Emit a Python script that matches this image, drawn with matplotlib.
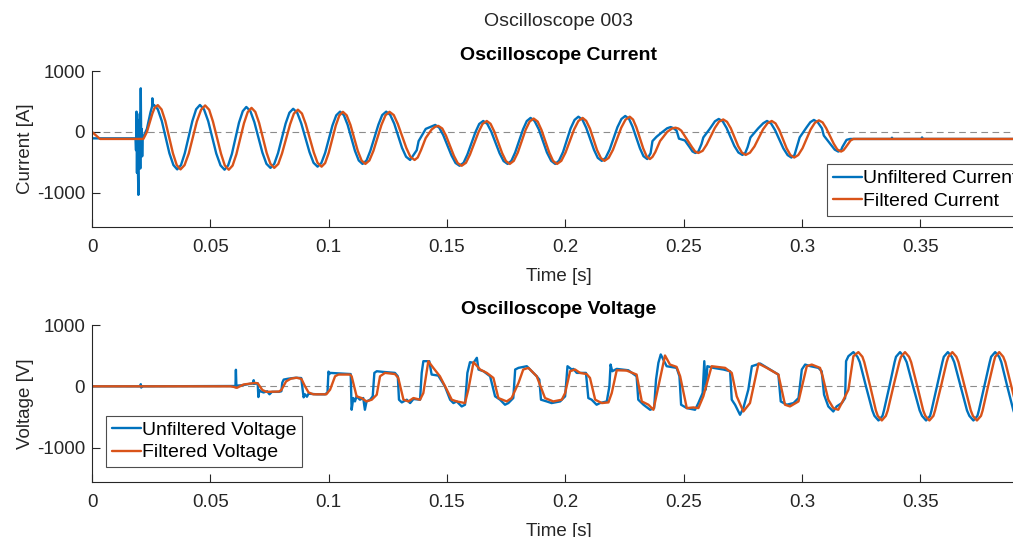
import matplotlib
matplotlib.use("Agg")
import matplotlib.pyplot as plt

plt.rcParams['font.family'] = ['Liberation Sans', 'DejaVu Sans']
plt.rcParams['axes.unicode_minus'] = False

# ---------------- data ----------------
x_ticks = [0, 0.05, 0.1, 0.15, 0.2, 0.25, 0.3, 0.35]
x_tick_labels = ['0', '0.05', '0.1', '0.15', '0.2', '0.25', '0.3', '0.35']
y_ticks = [-1000, 0, 1000]
y_tick_labels = ['-1000', '0', '1000']
t_max = 0.3942

current_unfiltered = [
    (0.0, -105), (0.0184, -105), (0.0186, -300), (0.0188, 333), (0.0190, -672), (0.0192, 200),
    (0.0194, -600), (0.0196, -1033), (0.0198, 100), (0.0200, -500), (0.0202, 300), (0.0204, -600),
    (0.0206, 716), (0.0208, -240), (0.0210, 50), (0.0212, -400), (0.0214, -100), (0.0217, -80),
    (0.0232, 50), (0.0247, 320), (0.0254, 420), (0.0255, 552), (0.0256, 430), (0.0262, 443),
    (0.0278, 372), (0.0295, 178), (0.0327, -350), (0.0344, -544), (0.0360, -615),
    (0.0376, -544), (0.0392, -350), (0.0424, 178), (0.0440, 372), (0.0456, 443),
    (0.0473, 372), (0.0491, 177), (0.0525, -354), (0.0543, -549), (0.0560, -620),
    (0.0575, -551), (0.0591, -362), (0.0621, 152), (0.0637, 341), (0.0652, 410),
    (0.0669, 343), (0.0686, 160), (0.0720, -340), (0.0737, -523), (0.0754, -590),
    (0.0770, -525), (0.0786, -347), (0.0818, 137), (0.0834, 315), (0.0850, 380),
    (0.0867, 316), (0.0884, 142), (0.0919, -332), (0.0936, -506), (0.0953, -570),
    (0.0969, -510), (0.0985, -344), (0.1016, 107), (0.1032, 273), (0.1048, 333),
    (0.1064, 276), (0.1080, 118), (0.1111, -310), (0.1127, -468), (0.1143, -525),
    (0.1160, -468), (0.1176, -310), (0.1210, 118), (0.1226, 276), (0.1243, 333),
    (0.1260, 280), (0.1277, 135), (0.1310, -262), (0.1327, -407), (0.1344, -460),
    (0.1372, -300), (0.1380, -150), (0.1410, 50), (0.1450, 115),
    (0.1467, 70), (0.1484, -52), (0.1519, -387), (0.1536, -510), (0.1553, -555),
    (0.1570, -506), (0.1586, -371), (0.1620, -4), (0.1636, 131), (0.1653, 180),
    (0.1670, 133), (0.1687, 4), (0.1722, -349), (0.1739, -478), (0.1756, -525),
    (0.1772, -474), (0.1788, -336), (0.1821, 41), (0.1837, 179), (0.1853, 230),
    (0.1870, 179), (0.1888, 41), (0.1922, -336), (0.1940, -474), (0.1957, -525),
    (0.1973, -473), (0.1990, -331), (0.2022, 56), (0.2039, 198), (0.2055, 250),
    (0.2072, 201), (0.2088, 69), (0.2121, -294), (0.2137, -426), (0.2154, -475),
    (0.2170, -426), (0.2187, -291), (0.2220, 78), (0.2237, 213), (0.2253, 262),
    (0.2269, 215), (0.2284, 85), (0.2315, -268), (0.2330, -398), (0.2346, -445),
    (0.2360, -350), (0.2368, -150), (0.2385, -80), (0.2410, 0), (0.2430, 60), (0.2445, 80),
    (0.2458, 60), (0.2470, 20), (0.2480, -110), (0.2505, -140), (0.2525, -250), (0.2537, -320),
    (0.2549, -345), (0.2562, -320),
    (0.2575, -200), (0.2583, -90), (0.2610, 50), (0.2632, 175), (0.2648, 213),
    (0.2665, 173), (0.2681, 66), (0.2714, -230), (0.2731, -337), (0.2748, -377),
    (0.2760, -345), (0.2770, -250), (0.2782, -90), (0.2815, 60), (0.2836, 143), (0.2852, 180),
    (0.2869, 140), (0.2886, 30), (0.2921, -270), (0.2939, -380), (0.2955, -420),
    (0.2968, -380), (0.2978, -250), (0.2990, -90), (0.3020, 80), (0.3035, 160), (0.3050, 197),
    (0.3066, 160), (0.3084, 60), (0.3092, -60), (0.3120, -200), (0.3138, -290), (0.3153, -322),
    (0.3165, -300), (0.3170, -250), (0.3188, -130), (0.3203, -115), (0.3379, -115), (0.3380, -95),
    (0.3381, -115), (0.3506, -115), (0.3507, -90), (0.3508, -115), (0.3942, -115),
]

current_filtered = [
    (0.0, 0), (0.0034, -115), (0.0217, -115), (0.0232, 0), (0.0255, 300), (0.0265, 400),
    (0.0278, 440),
    (0.0294, 369), (0.0310, 176), (0.0342, -351), (0.0358, -544), (0.0374, -615),
    (0.0391, -545), (0.0409, -353), (0.0443, 173), (0.0461, 365), (0.0478, 435),
    (0.0495, 364), (0.0511, 171), (0.0545, -356), (0.0561, -549), (0.0578, -620),
    (0.0594, -552), (0.0610, -366), (0.0642, 141), (0.0658, 327), (0.0674, 395),
    (0.0690, 329), (0.0706, 149), (0.0738, -344), (0.0754, -524), (0.0770, -590),
    (0.0787, -526), (0.0803, -351), (0.0837, 126), (0.0853, 301), (0.0870, 365),
    (0.0887, 302), (0.0903, 131), (0.0937, -336), (0.0953, -507), (0.0970, -570),
    (0.0985, -511), (0.1000, -345), (0.1030, 105), (0.1045, 270), (0.1060, 330),
    (0.1076, 273), (0.1092, 116), (0.1123, -311), (0.1139, -468), (0.1155, -525),
    (0.1172, -468), (0.1189, -311), (0.1223, 116), (0.1240, 273), (0.1257, 330),
    (0.1275, 277), (0.1292, 132), (0.1328, -262), (0.1345, -407), (0.1363, -460),
    (0.1376, -420), (0.1390, -300), (0.1410, -100), (0.1435, 40), (0.1450, 85), (0.1463, 100),
    (0.1480, 56), (0.1496, -64), (0.1529, -391), (0.1545, -511), (0.1562, -555),
    (0.1580, -506), (0.1597, -371), (0.1633, -4), (0.1650, 131), (0.1668, 180),
    (0.1684, 133), (0.1700, 4), (0.1733, -349), (0.1749, -478), (0.1765, -525),
    (0.1782, -475), (0.1799, -339), (0.1832, 34), (0.1849, 170), (0.1866, 220),
    (0.1883, 170), (0.1899, 34), (0.1932, -339), (0.1948, -475), (0.1965, -525),
    (0.1983, -474), (0.2001, -336), (0.2037, 41), (0.2055, 179), (0.2073, 230),
    (0.2088, 182), (0.2104, 54), (0.2134, -299), (0.2150, -428), (0.2165, -475),
    (0.2183, -426), (0.2201, -294), (0.2236, 69), (0.2254, 201), (0.2272, 250),
    (0.2286, 203), (0.2300, 76), (0.2329, -271), (0.2343, -398), (0.2357, -445),
    (0.2368, -410), (0.2380, -330), (0.2400, -150), (0.2430, 0), (0.2450, 55), (0.2465, 70),
    (0.2478, 55), (0.2490, 20), (0.2510, -100), (0.2535, -250), (0.2548, -320), (0.2562, -345),
    (0.2580, -310), (0.2597, -208), (0.2632, 68), (0.2649, 168), (0.2667, 205),
    (0.2683, 166), (0.2699, 60), (0.2730, -232), (0.2746, -340), (0.2762, -377),
    (0.2780, -340), (0.2799, -238), (0.2835, 41), (0.2854, 143), (0.2872, 180),
    (0.2888, 140), (0.2904, 30), (0.2935, -270), (0.2951, -380), (0.2967, -420),
    (0.2984, -379), (0.3002, -268), (0.3036, 38), (0.3054, 149), (0.3071, 190),
    (0.3087, 156), (0.3102, 62), (0.3134, -194), (0.3149, -288), (0.3165, -322),
    (0.3175, -300), (0.3185, -250), (0.3205, -140), (0.3217, -115), (0.3942, -115),
]

voltage_unfiltered = [
    (0.0, 0), (0.0205, 0), (0.0206, 35), (0.0208, -20), (0.0209, 0), (0.0600, 5), (0.0606, -15),
    (0.0608, 270), (0.0610, 10), (0.0640, 20), (0.0665, 40), (0.0680, 45), (0.0683, 100),
    (0.0686, 40), (0.0700, 50), (0.0703, -175), (0.0707, -60), (0.0712, -80), (0.0725, -100),
    (0.0740, -80), (0.0750, -130), (0.0760, -90), (0.0790, -90), (0.0800, -80), (0.0804, 60),
    (0.0810, 110), (0.0830, 125), (0.0860, 140), (0.0884, 135), (0.0890, -60), (0.0894, -180),
    (0.0900, -130), (0.0908, -170), (0.0915, -120), (0.0950, -130), (0.0985, -130), (0.0995, -100),
    (0.0999, 240), (0.1003, 200), (0.1006, 219),
    (0.1093, 200), (0.1097, -382), (0.1104, -191), (0.1111, -246), (0.1118, -163), (0.1132, -218),
    (0.1146, -191), (0.1153, -382), (0.1160, -246), (0.1175, -218), (0.1186, -163), (0.1193, 219),
    (0.1203, 246), (0.1231, 235), (0.1280, 219), (0.1292, 164), (0.1297, -218), (0.1309, -262),
    (0.1330, -218), (0.1344, -273), (0.1358, -207), (0.1386, -218), (0.1393, 219), (0.1400, 410),
    (0.1425, 410), (0.1435, 192), (0.1463, 175), (0.1491, 0), (0.1513, -218), (0.1527, -273),
    (0.1541, -246), (0.1562, -328), (0.1576, -300), (0.1586, 219), (0.1597, 394), (0.1612, 383),
    (0.1626, 465), (0.1633, 274), (0.1654, 246), (0.1682, 164), (0.1703, -163), (0.1724, -218),
    (0.1745, -300), (0.1759, -273), (0.1780, -191), (0.1788, 274), (0.1802, 301), (0.1837, 328),
    (0.1858, 246), (0.1879, 164), (0.1890, 109), (0.1897, -218), (0.1921, -246), (0.1942, -273),
    (0.1978, -246), (0.1999, -163), (0.2009, 328), (0.2027, 274),
    (0.2034, 284), (0.2048, 219), (0.2087, 219), (0.2097, -191), (0.2111, -218), (0.2132, -300),
    (0.2146, -273), (0.2175, -246), (0.2186, 0), (0.2191, 355), (0.2198, 246), (0.2217, 284),
    (0.2266, 262), (0.2301, 164), (0.2308, -218), (0.2330, -300), (0.2358, -382), (0.2375, -355),
    (0.2383, 109), (0.2393, 383), (0.2403, 520), (0.2414, 437), (0.2428, 328), (0.2470, 301),
    (0.2482, 164), (0.2489, -300), (0.2513, -355), (0.2548, -382), (0.2562, -273), (0.2580, -109),
    (0.2587, 410), (0.2593, -54), (0.2600, 328), (0.2625, 301), (0.2668, 274), (0.2696, 246),
    (0.2703, -218), (0.2717, -300), (0.2738, -464), (0.2752, -355), (0.2773, -54), (0.2788, 328),
    (0.2823, 372), (0.2865, 274), (0.2900, 192), (0.2910, -246), (0.2935, -300), (0.2964, -273),
    (0.2985, -191), (0.2999, 274), (0.3013, 355), (0.3034, 330), (0.3069, 301), (0.3083, 246),
    (0.3093, -136), (0.3111, -328), (0.3132, -410), (0.3146, -328), (0.3168, -273), (0.3182, -191),
    (0.3186, 410), (0.3196, 492), (0.3217, 558),
    (0.3234, 482), (0.3244, 394), (0.3270, 0), (0.3297, -394), (0.3306, -482), (0.3323, -557),
    (0.3340, -482), (0.3346, -394), (0.3369, 0), (0.3391, 394), (0.3397, 482), (0.3414, 558),
    (0.3431, 482), (0.3442, 394), (0.3469, 0), (0.3497, -394), (0.3507, -482), (0.3524, -557),
    (0.3541, -482), (0.3547, -394), (0.3570, 0), (0.3593, 394), (0.3599, 482), (0.3616, 558),
    (0.3633, 482), (0.3643, 394), (0.3670, 0), (0.3697, -394), (0.3707, -482), (0.3724, -557),
    (0.3741, -482), (0.3747, -394), (0.3770, 0), (0.3793, 394), (0.3799, 482), (0.3816, 558),
    (0.3833, 482), (0.3842, 394), (0.3867, 0), (0.3893, -394), (0.3901, -482), (0.3918, -557),
    (0.3935, -482), (0.3942, -394),
]

voltage_filtered = [
    (0.0, 0), (0.0585, 0), (0.0600, -10), (0.0612, -25), (0.0640, 30), (0.0660, 40), (0.0690, 55),
    (0.0700, 50), (0.0720, -60), (0.0737, -90), (0.0790, -85), (0.0800, -60), (0.0820, 80),
    (0.0840, 125), (0.0865, 140), (0.0885, 120), (0.0900, 0), (0.0915, -100), (0.0935, -130),
    (0.0990, -130), (0.1006, -54), (0.1027, 164), (0.1041, 192), (0.1090, 192), (0.1097, 164),
    (0.1118, -163), (0.1139, -191), (0.1160, -246), (0.1182, -218), (0.1203, -137), (0.1217, 164),
    (0.1238, 219), (0.1280, 200), (0.1294, 137), (0.1316, -218), (0.1337, -246), (0.1358, -191),
    (0.1386, -218), (0.1400, -109), (0.1421, 410), (0.1442, 301), (0.1470, 164), (0.1499, -54),
    (0.1520, -218), (0.1541, -246), (0.1576, -273), (0.1590, -54), (0.1612, 394), (0.1640, 274),
    (0.1668, 219), (0.1696, 137), (0.1717, -191), (0.1752, -246), (0.1773, -191), (0.1802, 55),
    (0.1822, 274), (0.1844, 301), (0.1879, 164), (0.1914, -191), (0.1949, -246), (0.1985, -218),
    (0.1999, -109), (0.2020, 246), (0.2041, 274), (0.2062, 219), (0.2090, 200), (0.2104, 137),
    (0.2126, -218), (0.2154, -273), (0.2182, -262), (0.2196, -109), (0.2217, 262), (0.2259, 257),
    (0.2301, 192), (0.2323, -246), (0.2351, -300), (0.2372, -382), (0.2393, 0), (0.2421, 503),
    (0.2442, 355), (0.2470, 317), (0.2485, 164), (0.2513, -355), (0.2541, -344), (0.2562, -355),
    (0.2583, -163), (0.2618, 328), (0.2675, 301), (0.2703, 219), (0.2724, -163), (0.2752, -410),
    (0.2780, -273), (0.2816, 372), (0.2851, 301), (0.2900, 192), (0.2928, -300), (0.2949, -328),
    (0.2985, -246), (0.3020, 328), (0.3041, 355), (0.3076, 301), (0.3087, 164), (0.3111, -219),
    (0.3132, -355), (0.3153, -382), (0.3175, -219), (0.3196, -55), (0.3217, 492), (0.3238, 558),
    (0.3255, 482), (0.3263, 394), (0.3288, 0), (0.3312, -394), (0.3320, -482), (0.3337, -557),
    (0.3354, -482), (0.3362, -394), (0.3386, 0), (0.3411, 394), (0.3418, 482), (0.3435, 558),
    (0.3452, 482), (0.3461, 394), (0.3487, 0), (0.3512, -394), (0.3521, -482), (0.3538, -557),
    (0.3555, -482), (0.3562, -394), (0.3587, 0), (0.3611, 394), (0.3618, 482), (0.3635, 558),
    (0.3652, 482), (0.3661, 394), (0.3687, 0), (0.3713, -394), (0.3722, -482), (0.3739, -557),
    (0.3756, -482), (0.3763, -394), (0.3786, 0), (0.3810, 394), (0.3816, 482), (0.3833, 558),
    (0.3850, 482), (0.3859, 394), (0.3884, 0), (0.3910, -394), (0.3918, -482), (0.3935, -557),
    (0.3942, -540),
]

# ---------------- styling ----------------
BLUE = '#0072BD'
ORANGE = '#D95319'
AXC = '#262626'
W, H = 1013, 537

fig = plt.figure(figsize=(W / 100, H / 100), dpi=100)
fig.patch.set_facecolor('white')

ax1 = fig.add_axes([92 / W, 1 - 227 / H, (1025 - 92) / W, 156 / H])
ax2 = fig.add_axes([92 / W, 1 - 482 / H, (1025 - 92) / W, 157 / H])


def style(ax, title, ylabel):
    ax.set_xlim(0, t_max)
    ax.set_ylim(-1560, 1000)
    ax.set_xticks(x_ticks)
    ax.set_xticklabels(x_tick_labels)
    ax.set_yticks(y_ticks)
    ax.set_yticklabels(y_tick_labels)
    for s in ('top', 'right'):
        ax.spines[s].set_visible(False)
    for s in ('left', 'bottom'):
        ax.spines[s].set_color(AXC)
        ax.spines[s].set_linewidth(0.8)
    ax.tick_params(direction='in', length=5.5, width=0.8, colors=AXC, labelsize=13.5)
    ax.tick_params(axis='x', pad=8.5)
    ax.tick_params(axis='y', pad=5)
    ax.set_title(title, fontsize=14, fontweight='bold', pad=8)
    ax.set_xlabel('Time [s]', fontsize=13.5, color=AXC, labelpad=9)
    ax.set_ylabel(ylabel, fontsize=13.5, color=AXC, labelpad=2)
    ax.axhline(0, color='#8c8c8c', lw=0.8, ls=(0, (6, 4)), zorder=1)


def draw(ax, pts, color, label):
    pts = sorted(pts)
    t = [p[0] for p in pts]
    v = [p[1] for p in pts]
    ax.plot(t, v, color=color, lw=1.7, label=label, zorder=2,
            solid_joinstyle='round', solid_capstyle='round')


style(ax1, 'Oscilloscope Current', 'Current [A]')
draw(ax1, current_unfiltered, BLUE, 'Unfiltered Current')
draw(ax1, current_filtered, ORANGE, 'Filtered Current')

style(ax2, 'Oscilloscope Voltage', 'Voltage [V]')
draw(ax2, voltage_unfiltered, BLUE, 'Unfiltered Voltage')
draw(ax2, voltage_filtered, ORANGE, 'Filtered Voltage')

leg_kw = dict(fontsize=14, frameon=True, fancybox=False, borderaxespad=0, borderpad=0.3,
              labelspacing=0.25, handlelength=1.5, handletextpad=0.05,
              bbox_transform=fig.transFigure)
lg1 = ax1.legend(loc='lower left', bbox_to_anchor=(826.7 / W, 1 - 215.7 / H), **leg_kw)
lg2 = ax2.legend(loc='lower left', bbox_to_anchor=(105.7 / W, 1 - 467.3 / H), **leg_kw)
for lg in (lg1, lg2):
    fr = lg.get_frame()
    fr.set_edgecolor('#4d4d4d')
    fr.set_linewidth(0.8)
    fr.set_facecolor('white')
    fr.set_alpha(1)
    for ln in lg.get_lines():
        ln.set_linewidth(1.7)

fig.text(558 / W, 1 - 22 / H, 'Oscilloscope 003', ha='center', va='center', fontsize=14, color=AXC)

fig.savefig('out.png', dpi=100, facecolor='white')
